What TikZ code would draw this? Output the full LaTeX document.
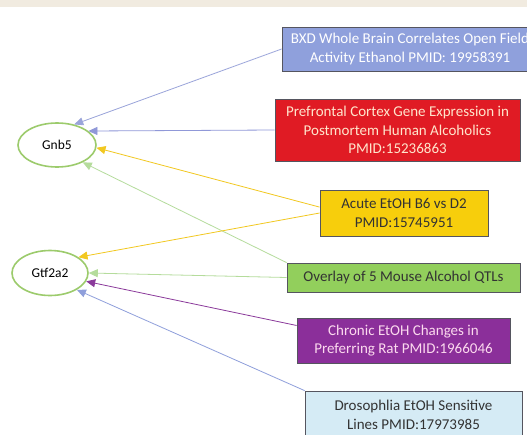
\documentclass[tikz,border=0pt]{standalone}
\usepackage{fontspec}
\setmainfont{Carlito}
\usetikzlibrary{shapes.geometric,arrows.meta}

\definecolor{bandbg}{HTML}{F1EBE0}
\definecolor{bxdfill}{HTML}{8FA0DC}
\definecolor{pfcfill}{HTML}{E01B24}
\definecolor{acutefill}{HTML}{F7CE0C}
\definecolor{qtlfill}{HTML}{92CF5C}
\definecolor{ratfill}{HTML}{8B2F9A}
\definecolor{flyfill}{HTML}{D5EBF5}
\definecolor{boxline}{HTML}{55555F}
\definecolor{geneline}{HTML}{9CCB6C}
\definecolor{bxdarrow}{HTML}{9AA4DA}
\definecolor{pfcarrow}{HTML}{9098D8}
\definecolor{acutearrow}{HTML}{F2C820}
\definecolor{qtlarrow}{HTML}{B5DC9C}
\definecolor{ratarrow}{HTML}{8B3A9B}
\definecolor{flyarrow}{HTML}{8F9FDB}

\begin{document}
\begin{tikzpicture}[x=1pt, y=-1pt,
   gene/.style={ellipse, draw=geneline, line width=1.6pt, fill=white,
      inner sep=0pt, font=\fontsize{13.5}{16}\selectfont},
   study/.style={rectangle, draw=boxline, line width=0.8pt, inner sep=0pt,
      align=center, font=\fontsize{15}{18.5}\selectfont},
   link/.style={line width=0.8pt, -{Triangle[length=9pt,width=8pt]}}]
   \useasboundingbox (0,0) rectangle (527,434);
   \clip (0,0) rectangle (527,434);
   \fill[white] (0,0) rectangle (527,434);
   \fill[bandbg] (0,0) rectangle (527,7);

   % genes
   \node[gene, minimum width=78pt, minimum height=44pt] (gnb) at (57,145) {Gnb5};
   \node[gene, minimum width=76pt, minimum height=45pt] (gtf) at (50,273) {Gtf2a2};

   % studies
   \node[study, fill=bxdfill, text=white, minimum width=256pt, minimum height=44pt]
      (bxd) at (410,49) {BXD Whole Brain Correlates Open Field\\Activity Ethanol PMID: 19958391};
   \node[study, fill=pfcfill, text=orange!20, minimum width=245pt, minimum height=62pt]
      (pfc) at (397.5,130) {Prefrontal Cortex Gene Expression in\\Postmortem Human Alcoholics\\PMID:15236863};
   \node[study, fill=acutefill, text=black!80, minimum width=168pt, minimum height=46pt]
      (acute) at (404,213) {Acute EtOH B6 vs D2\\PMID:15745951};
   \node[study, fill=qtlfill, text=black!80, minimum width=233pt, minimum height=29pt]
      (qtl) at (403.5,277.5) {Overlay of 5 Mouse Alcohol QTLs};
   \node[study, fill=ratfill, text=magenta!15, minimum width=213pt, minimum height=45pt]
      (rat) at (403.5,340.5) {Chronic EtOH Changes in\\Preferring Rat PMID:1966046};
   \node[study, fill=flyfill, text=black!80, minimum width=217pt, minimum height=48pt]
      (fly) at (413.5,415) {Drosophlia EtOH Sensitive\\Lines PMID:17973985};

   % links
   \draw[link, bxdarrow] (bxd.west) to (gnb.50);
   \draw[link, pfcarrow] (pfc.west) to (gnb.24);
   \draw[link, acutearrow] (acute.176) to (gnb.-4);
   \draw[link, qtlarrow] (qtl.north west) to (gnb.-34);
   \draw[link, acutearrow] (acute.west) to (gtf.29);
   \draw[link, qtlarrow] (qtl.west) to (gtf.0);
   \draw[link, ratarrow] (rat.172) to (gtf.-13);
   \draw[link, flyarrow] (fly.north west) to (gtf.-32);
\end{tikzpicture}
\end{document}
